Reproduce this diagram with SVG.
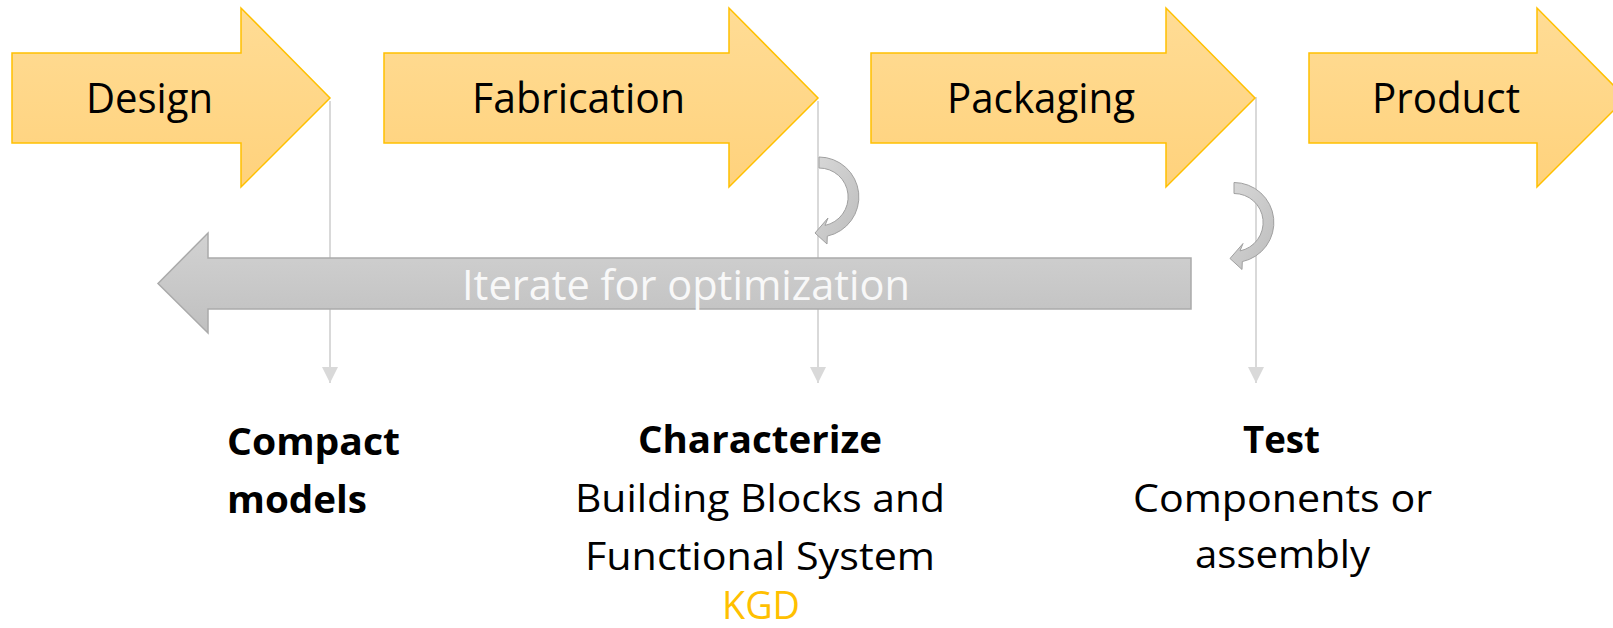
<svg xmlns="http://www.w3.org/2000/svg" width="1613" height="628" viewBox="0 0 1613 628">
  <defs>
    <linearGradient id="gOrange" x1="0" y1="0" x2="0" y2="1">
      <stop offset="0" stop-color="#ffdc95"/>
      <stop offset="1" stop-color="#ffd27c"/>
    </linearGradient>
    <linearGradient id="gGrey" x1="0" y1="0" x2="0" y2="1">
      <stop offset="0" stop-color="#d2d2d2"/>
      <stop offset="1" stop-color="#c0c0c0"/>
    </linearGradient>
    <linearGradient id="gCurve" x1="0" y1="0" x2="1" y2="1">
      <stop offset="0" stop-color="#d8d8d8"/>
      <stop offset="1" stop-color="#bdbdbd"/>
    </linearGradient>
    <marker id="tri" viewBox="0 0 16 16" refX="16" refY="8" markerWidth="16" markerHeight="16" markerUnits="userSpaceOnUse" orient="auto">
      <path d="M0,0 L16,8 L0,16 Z" fill="#d9d9d9"/>
    </marker>
  </defs>
  <style>
    .stage { fill: url(#gOrange); stroke: #ffc000; stroke-width: 1.5; }
    .lbl { font-family: "Open Sans", "Noto Sans", "Liberation Sans", sans-serif; font-size: 42px; fill: #000; }
    .iter { font-family: "Open Sans", "Noto Sans", "Liberation Sans", sans-serif; font-size: 42px; fill: #f8f8f8; }
    .body { font-family: "Open Sans", "Noto Sans", "Liberation Sans", sans-serif; font-size: 38px; fill: #000; }
    .bold { font-weight: bold; }
    .kgd { fill: #ffc000; }
    .conn { stroke: #d9d9d9; stroke-width: 2; fill: none; }
    .big { fill: url(#gGrey); stroke: #aaaaaa; stroke-width: 1.5; }
    .curve { fill: url(#gCurve); stroke: #a0a0a0; stroke-width: 1; }
  </style>
  <rect width="1613" height="628" fill="#ffffff"/>

  <g id="connectors">
    <line class="conn" x1="330" y1="101" x2="330" y2="383" marker-end="url(#tri)"/>
    <line class="conn" x1="818" y1="101" x2="818" y2="383" marker-end="url(#tri)"/>
    <line class="conn" x1="1256" y1="97" x2="1256" y2="383" marker-end="url(#tri)"/>
  </g>

  <g id="design">
    <path class="stage" d="M12,53 L241,53 L241,8 L330,98 L241,187 L241,143 L12,143 Z"/>
    <text class="lbl" x="86" y="113" textLength="127" lengthAdjust="spacingAndGlyphs">Design</text>
  </g>
  <g id="fabrication">
    <path class="stage" d="M384,53 L729,53 L729,8 L818,98 L729,187 L729,143 L384,143 Z"/>
    <text class="lbl" x="472" y="113" textLength="213" lengthAdjust="spacingAndGlyphs">Fabrication</text>
  </g>
  <g id="packaging">
    <path class="stage" d="M871,53 L1166,53 L1166,8 L1255,98 L1166,187 L1166,143 L871,143 Z"/>
    <text class="lbl" x="947" y="113" textLength="188" lengthAdjust="spacingAndGlyphs">Packaging</text>
  </g>
  <g id="product">
    <path class="stage" d="M1309,53 L1537,53 L1537,8 L1626,98 L1537,187 L1537,143 L1309,143 Z"/>
    <text class="lbl" x="1372" y="113" textLength="148" lengthAdjust="spacingAndGlyphs">Product</text>
  </g>

  <g id="iterate">
    <path class="big" d="M1191,258 L208,258 L208,233 L158,283.5 L208,333 L208,309 L1191,309 Z"/>
    <text class="iter" x="462" y="300" textLength="448" lengthAdjust="spacingAndGlyphs">Iterate for optimization</text>
  </g>

  <g id="loop-fabrication">
    <path class="curve" d="M819,157 A40,40 0 0 1 827.3,236.1 L827,244 L815,233 L828,218 L825,225.4 A29,29 0 0 0 819,168 Z"/>
  </g>
  <g id="loop-packaging" transform="translate(415,25.5)">
    <path class="curve" d="M819,157 A40,40 0 0 1 827.3,236.1 L827,244 L815,233 L828,218 L825,225.4 A29,29 0 0 0 819,168 Z"/>
  </g>

  <g id="compact-models">
    <text class="body bold" x="227" y="455" textLength="173" lengthAdjust="spacingAndGlyphs">Compact</text>
    <text class="body bold" x="227" y="513" textLength="140" lengthAdjust="spacingAndGlyphs">models</text>
  </g>
  <g id="characterize">
    <text class="body bold" x="638" y="453" textLength="244" lengthAdjust="spacingAndGlyphs">Characterize</text>
    <text class="body" x="575" y="512" textLength="370" lengthAdjust="spacingAndGlyphs">Building Blocks and</text>
    <text class="body" x="585" y="570" textLength="350" lengthAdjust="spacingAndGlyphs">Functional System</text>
    <text class="body kgd" x="722" y="619" textLength="78" lengthAdjust="spacingAndGlyphs">KGD</text>
  </g>
  <g id="test">
    <text class="body bold" x="1243" y="453" textLength="77" lengthAdjust="spacingAndGlyphs">Test</text>
    <text class="body" x="1133" y="512" textLength="299" lengthAdjust="spacingAndGlyphs">Components or</text>
    <text class="body" x="1195" y="568" textLength="175" lengthAdjust="spacingAndGlyphs">assembly</text>
  </g>
</svg>
